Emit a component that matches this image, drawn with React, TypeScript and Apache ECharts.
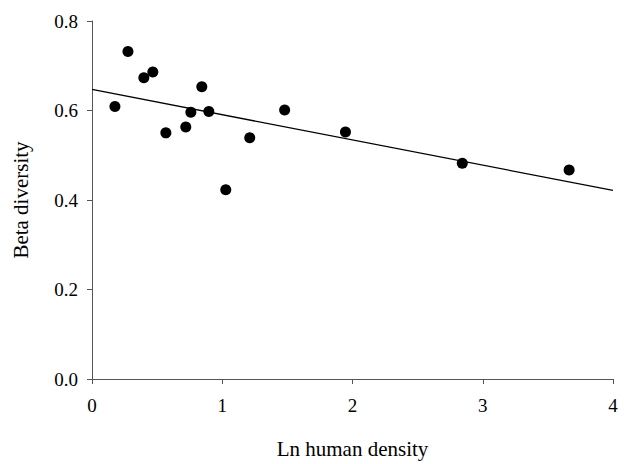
import React, { useEffect, useRef } from "react";
import * as echarts from "echarts";

const lnDensity = [0.176, 0.276, 0.398, 0.467, 0.567, 0.72, 0.759, 0.843, 0.897, 1.027, 1.211, 1.479, 1.946, 2.843, 3.663];
const betaDiversity = [0.609, 0.732, 0.673, 0.686, 0.55, 0.563, 0.596, 0.653, 0.598, 0.423, 0.539, 0.601, 0.552, 0.482, 0.467];
const fitX = [0, 4];
const fitY = [0.647, 0.4215];
const xTicks = ["0", "1", "2", "3", "4"];
const yTicks = ["0.0", "0.2", "0.4", "0.6", "0.8"];

const FONT = "Liberation Serif";

export default function App() {
  const ref = useRef<HTMLDivElement>(null);
  useEffect(() => {
    if (!ref.current) return;
    const chart = echarts.init(ref.current, undefined, { renderer: "svg" });
    const axisLine = { show: true, lineStyle: { color: "#555", width: 1 } };
    chart.setOption({
      animation: false,
      backgroundColor: "#fff",
      grid: { left: 92, right: 11, top: 21, bottom: 78 },
      xAxis: {
        type: "value",
        min: 0,
        max: 4,
        interval: 1,
        name: "Ln human density",
        nameLocation: "middle",
        nameGap: 59,
        nameTextStyle: { fontFamily: FONT, fontSize: 21, color: "#000" },
        axisLine,
        axisTick: { show: true, length: 5, lineStyle: { color: "#555" } },
        splitLine: { show: false },
        axisLabel: {
          fontFamily: FONT,
          fontSize: 19,
          color: "#000",
          margin: 17,
          formatter: (v: number) => xTicks[Math.round(v)] ?? String(v),
        },
      },
      yAxis: {
        type: "value",
        min: 0,
        max: 0.8,
        interval: 0.2,
        name: "Beta diversity",
        nameLocation: "middle",
        nameGap: 61,
        nameTextStyle: { fontFamily: FONT, fontSize: 21, color: "#000" },
        axisLine,
        axisTick: { show: true, length: 5, lineStyle: { color: "#555" } },
        splitLine: { show: false },
        axisLabel: {
          fontFamily: FONT,
          fontSize: 19,
          color: "#000",
          margin: 14,
          formatter: (v: number) => yTicks[Math.round(v / 0.2)] ?? String(v),
        },
      },
      series: [
        {
          type: "line",
          data: fitX.map((x, i) => [x, fitY[i]]),
          symbol: "none",
          lineStyle: { color: "#000", width: 1.3 },
          silent: true,
          z: 1,
        },
        {
          type: "scatter",
          data: lnDensity.map((x, i) => [x, betaDiversity[i]]),
          symbol: "circle",
          symbolSize: 11,
          itemStyle: { color: "#000", opacity: 1 },
          z: 2,
        },
      ],
    });
    return () => chart.dispose();
  }, []);
  return <div ref={ref} style={{ width: 624, height: 464, position: "absolute", left: 0, top: 0 }} />;
}
